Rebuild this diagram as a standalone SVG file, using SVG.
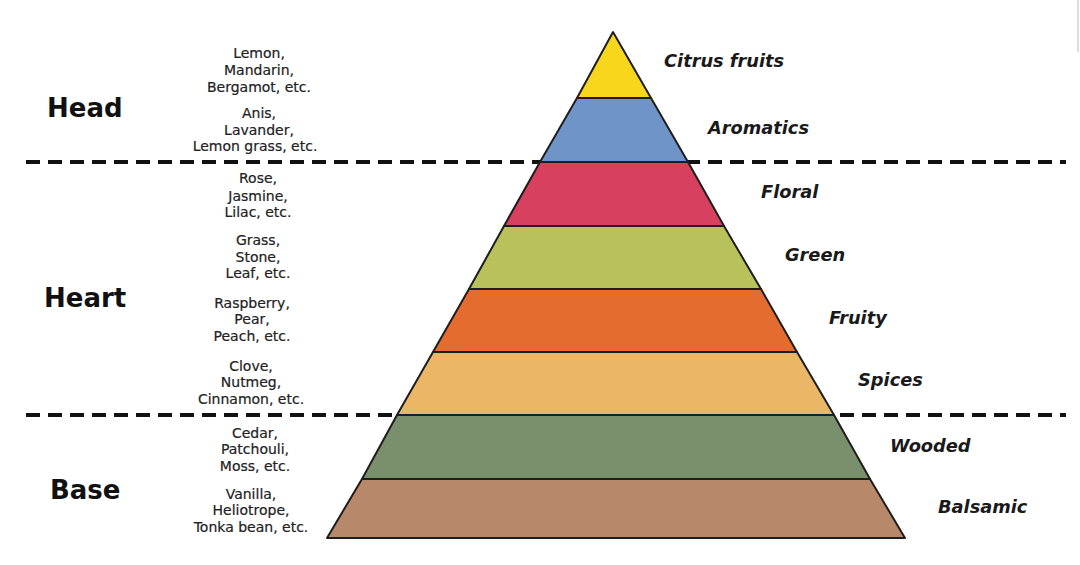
<svg xmlns="http://www.w3.org/2000/svg" width="1080" height="565" viewBox="0 0 1080 565">
<style>
.layer{stroke:#1e1e1e;stroke-width:2;stroke-linejoin:round}
.lbl{font-family:"DejaVu Sans",Verdana,sans-serif;font-weight:bold;font-style:italic;font-size:17.8px;fill:#1a1a1a}
.sec{font-family:"DejaVu Sans",Verdana,sans-serif;font-weight:bold;font-size:26px;fill:#111}
.ex{font-family:"DejaVu Sans",Verdana,sans-serif;font-size:14px;fill:#222;text-anchor:middle;stroke:#222;stroke-width:0.2}
.dash{stroke:#111;stroke-width:4;stroke-dasharray:14 8;fill:none}
</style>
<rect width="1080" height="565" fill="#fff"/>
<line x1="1078" y1="0" x2="1078" y2="52" stroke="#ddd" stroke-width="2"/>
<g id="connectors">
<line class="dash" x1="26" y1="162" x2="1066" y2="162"/>
<line class="dash" x1="26" y1="415" x2="1066" y2="415"/>
</g>
<g id="layer-citrus"><polygon class="layer" fill="#F8D61C" points="613,32 577,98 651,98"/><text class="lbl" x="664" y="67">Citrus fruits</text></g>
<g id="layer-aromatics"><polygon class="layer" fill="#6F95C8" points="577,98 651,98 688,162 540,162"/><text class="lbl" x="708" y="134">Aromatics</text></g>
<g id="layer-floral"><polygon class="layer" fill="#D8405F" points="540,162 688,162 724,226 504,226"/><text class="lbl" x="761" y="198">Floral</text></g>
<g id="layer-green"><polygon class="layer" fill="#B9C25A" points="504,226 724,226 761,289 469,289"/><text class="lbl" x="785" y="261">Green</text></g>
<g id="layer-fruity"><polygon class="layer" fill="#E46C2E" points="469,289 761,289 797,352 433,352"/><text class="lbl" x="829" y="324">Fruity</text></g>
<g id="layer-spices"><polygon class="layer" fill="#EBB766" points="433,352 797,352 834,415 397,415"/><text class="lbl" x="858" y="386">Spices</text></g>
<g id="layer-wooded"><polygon class="layer" fill="#7A8F6B" points="397,415 834,415 870,479 362,479"/><text class="lbl" x="890" y="452">Wooded</text></g>
<g id="layer-balsamic"><polygon class="layer" fill="#B8886B" points="362,479 870,479 905,538 327,538"/><text class="lbl" x="938" y="513">Balsamic</text></g>
<g id="section-head"><text class="sec" x="47" y="117">Head</text></g>
<g id="section-heart"><text class="sec" x="44" y="307">Heart</text></g>
<g id="section-base"><text class="sec" x="50" y="499">Base</text></g>
<g id="examples">
<text class="ex" x="259" y="58">Lemon,</text>
<text class="ex" x="259" y="75">Mandarin,</text>
<text class="ex" x="259" y="92">Bergamot, etc.</text>
<text class="ex" x="259" y="118">Anis,</text>
<text class="ex" x="259" y="135">Lavander,</text>
<text class="ex" x="255" y="151">Lemon grass, etc.</text>
<text class="ex" x="258" y="183">Rose,</text>
<text class="ex" x="258" y="201">Jasmine,</text>
<text class="ex" x="258" y="217">Lilac, etc.</text>
<text class="ex" x="258" y="245">Grass,</text>
<text class="ex" x="258" y="262">Stone,</text>
<text class="ex" x="258" y="278">Leaf, etc.</text>
<text class="ex" x="252" y="308">Raspberry,</text>
<text class="ex" x="252" y="324">Pear,</text>
<text class="ex" x="252" y="341">Peach, etc.</text>
<text class="ex" x="251" y="371">Clove,</text>
<text class="ex" x="251" y="387">Nutmeg,</text>
<text class="ex" x="251" y="404">Cinnamon, etc.</text>
<text class="ex" x="255" y="438">Cedar,</text>
<text class="ex" x="255" y="454">Patchouli,</text>
<text class="ex" x="255" y="471">Moss, etc.</text>
<text class="ex" x="251" y="499">Vanilla,</text>
<text class="ex" x="251" y="515">Heliotrope,</text>
<text class="ex" x="251" y="532">Tonka bean, etc.</text>
</g>
</svg>
